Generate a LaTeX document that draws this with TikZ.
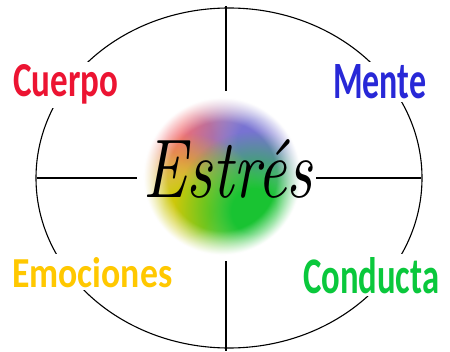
\documentclass[tikz,border=0pt]{standalone}
\usepackage{fontspec}
\usepackage{graphicx}
\newfontfamily\rotulofont{Carlito}
\usetikzlibrary{fadings}
\pgfdeclareradialshading{manchaSombra}{\pgfpointorigin}{color(0bp)=(white); color(7bp)=(white); color(25bp)=(black); color(50bp)=(black)}
\pgfdeclarefading{mancha}{\pgfuseshading{manchaSombra}}
\pgfdeclareradialshading{anilloSombra}{\pgfpointorigin}{color(0bp)=(black); color(16bp)=(black); color(23bp)=(white); color(50bp)=(white)}
\pgfdeclarefading{anillo}{\pgfuseshading{anilloSombra}}
\definecolor{rojo}{RGB}{236,20,50}
\definecolor{azul}{RGB}{40,40,215}
\definecolor{amarillo}{RGB}{255,200,0}
\definecolor{verde}{RGB}{10,200,60}
\definecolor{manchaRoja}{RGB}{242,110,115}
\definecolor{manchaAzul}{RGB}{120,115,210}
\definecolor{manchaAmarilla}{RGB}{205,200,10}
\definecolor{manchaVerde}{RGB}{25,195,50}
\newcommand{\rotulo}[3]{\resizebox{#1pt}{#2pt}{\rotulofont\bfseries #3}}
\tikzset{
  eje/.style={line width=1.1pt},
  etiqueta/.style={fill=white, inner sep=3pt, anchor=base west},
  mancha/.style={path fading=mancha},
}
\begin{document}
\begin{tikzpicture}[x=1pt,y=1pt]
\useasboundingbox (0,0) rectangle (450,351);
% contorno y ejes
\draw[eje] (229,173) ellipse [x radius=193, y radius=170];
\coordinate (arriba) at (226,345);
\coordinate (abajo) at (226,0);
\coordinate (izq) at (37,173);
\coordinate (der) at (421,173);
\draw[eje] (arriba) -- (abajo);
\draw[eje] (izq) -- (der);
% rotulos
\node[etiqueta, text=rojo] (cuerpo) at (10,254) {\rotulo{105}{32}{Cuerpo}};
\node[etiqueta, text=azul] (mente) at (330,252) {\rotulo{93}{34}{Mente}};
\node[etiqueta, text=amarillo] (emociones) at (9,64) {\rotulo{160}{30}{Emociones}};
\node[etiqueta, text=verde] (conducta) at (300,58) {\rotulo{136}{36}{Conducta}};
% centro
\coordinate (centro) at (222,175);
\fill[white] (229,176) ellipse [x radius=87, y radius=81];
\begin{scope}
  \clip (centro) circle (82);
  \fill[mancha, manchaRoja] (190,214) circle (80);
  \fill[mancha, manchaAzul] (260,210) circle (80);
  \fill[mancha, manchaAmarilla] (186,138) circle (80);
  \fill[mancha, manchaVerde] (254,140) circle (80);
\end{scope}
\fill[white, path fading=anillo] (centro) circle (85);
\node[inner sep=0pt, anchor=base west] (estres) at (143,154) {\resizebox{169pt}{58pt}{\itshape Estrés}};
\end{tikzpicture}
\end{document}
